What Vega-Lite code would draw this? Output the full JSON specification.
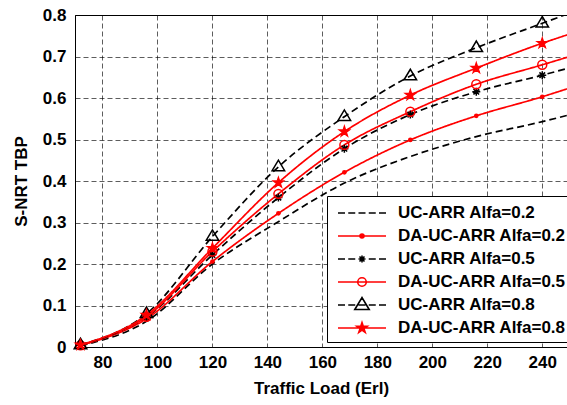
{
  "$schema": "https://vega.github.io/schema/vega-lite/v6.json",
  "width": 492,
  "height": 332,
  "autosize": {"type": "none"},
  "padding": {"left": 75, "top": 15, "right": 0, "bottom": 58},
  "background": "white",
  "data": {
    "values": [
      {"series": "UC-ARR Alfa=0.2", "x": 72, "y": 0.003},
      {"series": "UC-ARR Alfa=0.2", "x": 96, "y": 0.062},
      {"series": "UC-ARR Alfa=0.2", "x": 120, "y": 0.200},
      {"series": "UC-ARR Alfa=0.2", "x": 144, "y": 0.302},
      {"series": "UC-ARR Alfa=0.2", "x": 168, "y": 0.395},
      {"series": "UC-ARR Alfa=0.2", "x": 192, "y": 0.459},
      {"series": "UC-ARR Alfa=0.2", "x": 216, "y": 0.507},
      {"series": "UC-ARR Alfa=0.2", "x": 240, "y": 0.543},
      {"series": "UC-ARR Alfa=0.2", "x": 249, "y": 0.558},
      {"series": "DA-UC-ARR Alfa=0.2", "x": 72, "y": 0.004},
      {"series": "DA-UC-ARR Alfa=0.2", "x": 96, "y": 0.068},
      {"series": "DA-UC-ARR Alfa=0.2", "x": 120, "y": 0.206},
      {"series": "DA-UC-ARR Alfa=0.2", "x": 144, "y": 0.322},
      {"series": "DA-UC-ARR Alfa=0.2", "x": 168, "y": 0.421},
      {"series": "DA-UC-ARR Alfa=0.2", "x": 192, "y": 0.499},
      {"series": "DA-UC-ARR Alfa=0.2", "x": 216, "y": 0.557},
      {"series": "DA-UC-ARR Alfa=0.2", "x": 240, "y": 0.603},
      {"series": "DA-UC-ARR Alfa=0.2", "x": 249, "y": 0.622},
      {"series": "UC-ARR Alfa=0.5", "x": 72, "y": 0.004},
      {"series": "UC-ARR Alfa=0.5", "x": 96, "y": 0.072},
      {"series": "UC-ARR Alfa=0.5", "x": 120, "y": 0.222},
      {"series": "UC-ARR Alfa=0.5", "x": 144, "y": 0.360},
      {"series": "UC-ARR Alfa=0.5", "x": 168, "y": 0.478},
      {"series": "UC-ARR Alfa=0.5", "x": 192, "y": 0.560},
      {"series": "UC-ARR Alfa=0.5", "x": 216, "y": 0.615},
      {"series": "UC-ARR Alfa=0.5", "x": 240, "y": 0.655},
      {"series": "UC-ARR Alfa=0.5", "x": 249, "y": 0.671},
      {"series": "DA-UC-ARR Alfa=0.5", "x": 72, "y": 0.004},
      {"series": "DA-UC-ARR Alfa=0.5", "x": 96, "y": 0.073},
      {"series": "DA-UC-ARR Alfa=0.5", "x": 120, "y": 0.230},
      {"series": "DA-UC-ARR Alfa=0.5", "x": 144, "y": 0.369},
      {"series": "DA-UC-ARR Alfa=0.5", "x": 168, "y": 0.487},
      {"series": "DA-UC-ARR Alfa=0.5", "x": 192, "y": 0.567},
      {"series": "DA-UC-ARR Alfa=0.5", "x": 216, "y": 0.633},
      {"series": "DA-UC-ARR Alfa=0.5", "x": 240, "y": 0.680},
      {"series": "DA-UC-ARR Alfa=0.5", "x": 249, "y": 0.698},
      {"series": "UC-ARR Alfa=0.8", "x": 72, "y": 0.005},
      {"series": "UC-ARR Alfa=0.8", "x": 96, "y": 0.080},
      {"series": "UC-ARR Alfa=0.8", "x": 120, "y": 0.266},
      {"series": "UC-ARR Alfa=0.8", "x": 144, "y": 0.434},
      {"series": "UC-ARR Alfa=0.8", "x": 168, "y": 0.555},
      {"series": "UC-ARR Alfa=0.8", "x": 192, "y": 0.653},
      {"series": "UC-ARR Alfa=0.8", "x": 216, "y": 0.721},
      {"series": "UC-ARR Alfa=0.8", "x": 240, "y": 0.780},
      {"series": "UC-ARR Alfa=0.8", "x": 249, "y": 0.802},
      {"series": "DA-UC-ARR Alfa=0.8", "x": 72, "y": 0.005},
      {"series": "DA-UC-ARR Alfa=0.8", "x": 96, "y": 0.077},
      {"series": "DA-UC-ARR Alfa=0.8", "x": 120, "y": 0.238},
      {"series": "DA-UC-ARR Alfa=0.8", "x": 144, "y": 0.396},
      {"series": "DA-UC-ARR Alfa=0.8", "x": 168, "y": 0.519},
      {"series": "DA-UC-ARR Alfa=0.8", "x": 192, "y": 0.607},
      {"series": "DA-UC-ARR Alfa=0.8", "x": 216, "y": 0.672},
      {"series": "DA-UC-ARR Alfa=0.8", "x": 240, "y": 0.732},
      {"series": "DA-UC-ARR Alfa=0.8", "x": 249, "y": 0.752}
    ]
  },
  "encoding": {
    "x": {
      "field": "x", "type": "quantitative",
      "scale": {"domain": [70, 249], "nice": false, "zero": false},
      "axis": {"title": "Traffic Load (Erl)", "values": [80, 100, 120, 140, 160, 180, 200, 220, 240], "labelPadding": 7, "titlePadding": 10}
    },
    "y": {
      "field": "y", "type": "quantitative",
      "scale": {"domain": [0, 0.8], "nice": false},
      "axis": {"title": "S-NRT TBP", "values": [0, 0.1, 0.2, 0.3, 0.4, 0.5, 0.6, 0.7, 0.8], "labelExpr": "datum.value == 0 ? '0' : format(datum.value, '.1f')", "labelPadding": 9, "titlePadding": 12}
    }
  },
  "layer": [
    {
      "mark": {"type": "line", "interpolate": "monotone", "strokeWidth": 1.7, "clip": true},
      "encoding": {
        "stroke": {
          "field": "series", "type": "nominal",
          "scale": {
            "domain": ["DA-UC-ARR Alfa=0.2", "UC-ARR Alfa=0.2", "DA-UC-ARR Alfa=0.5", "UC-ARR Alfa=0.5", "DA-UC-ARR Alfa=0.8", "UC-ARR Alfa=0.8"],
            "range": ["#ff0000", "#000000", "#ff0000", "#000000", "#ff0000", "#000000"]
          },
          "legend": null
        },
        "strokeDash": {
          "field": "series", "type": "nominal",
          "scale": {
            "domain": ["DA-UC-ARR Alfa=0.2", "UC-ARR Alfa=0.2", "DA-UC-ARR Alfa=0.5", "UC-ARR Alfa=0.5", "DA-UC-ARR Alfa=0.8", "UC-ARR Alfa=0.8"],
            "range": [[1, 0], [7, 4], [1, 0], [7, 4], [1, 0], [7, 4]]
          },
          "legend": null
        }
      }
    },
    {
      "transform": [{"filter": "datum.x <= 240 && datum.series === 'DA-UC-ARR Alfa=0.2'"}],
      "mark": {"type": "point", "shape": "circle", "filled": true, "size": 22, "color": "#ff0000", "opacity": 1}
    },
    {
      "transform": [{"filter": "datum.x <= 240 && datum.series === 'UC-ARR Alfa=0.5'"}],
      "mark": {"type": "point", "shape": "M-0.8,0H0.8M0,-0.8V0.8M-0.56,-0.56L0.56,0.56M-0.56,0.56L0.56,-0.56", "filled": false, "size": 100, "strokeWidth": 1.5, "color": "#000000", "opacity": 1}
    },
    {
      "transform": [{"filter": "datum.x <= 240 && datum.series === 'DA-UC-ARR Alfa=0.5'"}],
      "mark": {"type": "point", "shape": "circle", "filled": false, "size": 80, "strokeWidth": 1.5, "color": "#ff0000", "opacity": 1}
    },
    {
      "transform": [{"filter": "datum.x <= 240 && datum.series === 'UC-ARR Alfa=0.8'"}],
      "mark": {"type": "point", "shape": "M-1.25,0.75L0,-1.35L1.25,0.75Z", "filled": false, "size": 100, "strokeWidth": 1.5, "color": "#000000", "opacity": 1}
    },
    {
      "transform": [{"filter": "datum.x <= 240 && datum.series === 'DA-UC-ARR Alfa=0.8'"}],
      "mark": {"type": "point", "shape": "M0,-1.06L0.238,-0.328L1.008,-0.328L0.385,0.125L0.623,0.858L0,0.405L-0.623,0.858L-0.385,0.125L-1.008,-0.328L-0.238,-0.328Z", "filled": true, "size": 110, "color": "#ff0000", "stroke": "#ff0000", "strokeWidth": 1.2, "opacity": 1}
    },
    {
      "transform": [{"filter": "datum.x == 72"}],
      "mark": {"type": "point", "filled": false, "strokeWidth": 1.6, "opacity": 0},
      "encoding": {
        "color": {
          "field": "series", "type": "nominal",
          "scale": {
            "domain": ["UC-ARR Alfa=0.2", "DA-UC-ARR Alfa=0.2", "UC-ARR Alfa=0.5", "DA-UC-ARR Alfa=0.5", "UC-ARR Alfa=0.8", "DA-UC-ARR Alfa=0.8"],
            "range": ["#000000", "#ff0000", "#000000", "#ff0000", "#000000", "#ff0000"]
          },
          "legend": {
            "title": null, "orient": "none", "legendX": 252, "legendY": 181,
            "symbolSize": 400, "symbolStrokeWidth": 1.6, "symbolOpacity": 1, "labelOffset": 43,
            "rowPadding": 4, "padding": 6, "labelLimit": 400
          }
        },
        "shape": {
          "field": "series", "type": "nominal",
          "scale": {
            "domain": ["UC-ARR Alfa=0.2", "DA-UC-ARR Alfa=0.2", "UC-ARR Alfa=0.5", "DA-UC-ARR Alfa=0.5", "UC-ARR Alfa=0.8", "DA-UC-ARR Alfa=0.8"],
            "range": [
              "M-0.6,0H0.1M0.425,0H1.125M1.45,0H2.15M2.475,0H3.175M3.5,0H4.2",
              "M-0.6,0H4.2M1.6,0a0.2,0.2 0 1,0 0.4,0a0.2,0.2 0 1,0 -0.4,0M1.72,0a0.08,0.08 0 1,0 0.16,0a0.08,0.08 0 1,0 -0.16,0",
              "M-0.6,0H0.1M0.425,0H1.125M1.45,0H2.15M2.475,0H3.175M3.5,0H4.2M1.8,-0.35V0.35M1.55,-0.25L2.05,0.25M1.55,0.25L2.05,-0.25",
              "M-0.6,0H4.2M1.375,0a0.425,0.425 0 1,0 0.85,0a0.425,0.425 0 1,0 -0.85,0",
              "M-0.6,0H0.1M0.425,0H1.125M1.45,0H2.15M2.475,0H3.175M3.5,0H4.2M1.08,0.45L1.8,-0.75L2.52,0.45Z",
              "M-0.6,0H4.2M1.8,-0.55L1.924,-0.17L2.323,-0.17L2,0.065L2.123,0.445L1.8,0.21L1.477,0.445L1.6,0.065L1.277,-0.17L1.676,-0.17ZM1.8,-0.275L1.862,-0.085L2.062,-0.085L1.9,0.033L1.962,0.223L1.8,0.105L1.638,0.223L1.7,0.033L1.538,-0.085L1.738,-0.085Z"
            ]
          },
          "legend": {
            "title": null, "orient": "none", "legendX": 252, "legendY": 181,
            "symbolSize": 400, "symbolStrokeWidth": 1.6, "symbolOpacity": 1, "labelOffset": 43,
            "rowPadding": 4, "padding": 6, "labelLimit": 400
          }
        }
      }
    }
  ],
  "config": {
    "font": "Liberation Sans",
    "view": {"stroke": "#000000", "strokeWidth": 1},
    "axis": {
      "domainColor": "#000000",
      "domainWidth": 1,
      "ticks": false,
      "grid": true,
      "gridColor": "#000000",
      "gridDash": [5, 3],
      "gridOpacity": 0.8,
      "gridWidth": 0.8,
      "labelFont": "Liberation Sans",
      "labelFontSize": 17,
      "labelFontWeight": "bold",
      "labelColor": "#000000",
      "titleFont": "Liberation Sans",
      "titleFontSize": 17,
      "titleFontWeight": "bold",
      "titleColor": "#000000"
    },
    "legend": {
      "labelFont": "Liberation Sans",
      "labelFontSize": 17,
      "labelFontWeight": "bold",
      "labelColor": "#000000",
      "strokeColor": "#000000",
      "fillColor": "#ffffff",
      "cornerRadius": 0
    }
  }
}
